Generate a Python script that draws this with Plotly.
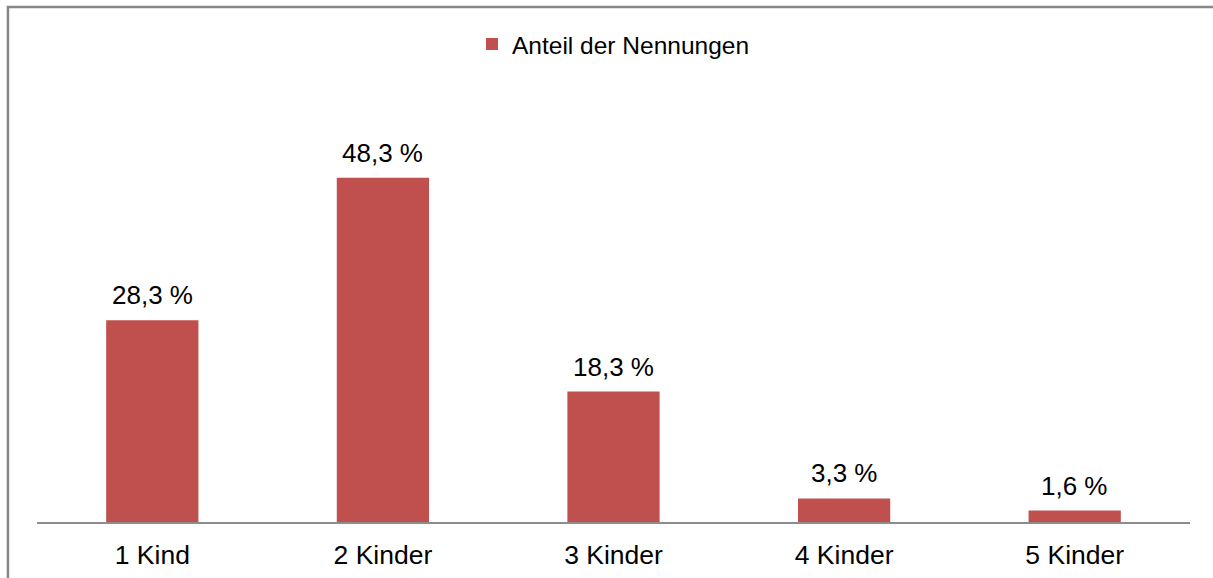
import plotly.graph_objects as go

categories = ["1 Kind", "2 Kinder", "3 Kinder", "4 Kinder", "5 Kinder"]
shares = [28.3, 48.3, 18.3, 3.3, 1.6]
labels = ["28,3 %", "48,3 %", "18,3 %", "3,3 %", "1,6 %"]
series_name = "Anteil der Nennungen"

FONT = "Liberation Sans, Arial, sans-serif"

fig = go.Figure()
fig.add_trace(go.Bar(x=categories, y=shares, name=series_name,
                     marker_color="#C0504D", marker_line_width=0,
                     showlegend=True, hoverinfo="x+y"))

# value labels above the bars
for cat, val, lab in zip(categories, shares, labels):
    fig.add_annotation(x=cat, y=val, text=lab, showarrow=False,
                       yanchor="bottom", yshift=8,
                       font=dict(family=FONT, size=26, color="#000000"))

# outer frame (only top and left edges are visible in the picture)
fig.add_shape(type="rect", xref="paper", yref="paper",
              x0=-0.0252, x1=1.03, y0=-0.2, y1=1.314,
              line=dict(color="#888888", width=2.5))

fig.update_layout(
    width=1213, height=578,
    margin=dict(l=37, r=23, t=130, b=56),
    paper_bgcolor="white", plot_bgcolor="white",
    font=dict(family=FONT, size=25, color="#000000"),
    bargap=0.6,
    legend=dict(orientation="h", x=0.5, xanchor="center",
                y=1.219, yanchor="middle",
                font=dict(family=FONT, size=24.5, color="#000000"),
                itemwidth=30, bgcolor="rgba(0,0,0,0)"),
    xaxis=dict(showline=True, linecolor="#8c8c8c", linewidth=1.5,
               ticks="", showgrid=False, zeroline=False,
               automargin=False, ticklabelstandoff=8,
               tickfont=dict(family=FONT, size=26.5, color="#000000")),
    yaxis=dict(range=[0, 55], visible=False, showgrid=False,
               zeroline=False, automargin=False),
)

# drop the default page margin so the figure sits at (0, 0)
fig.write_html("out.html", config={"displayModeBar": False},
               post_script="document.body.style.margin='0';"
                           "document.body.style.overflow='hidden';")
